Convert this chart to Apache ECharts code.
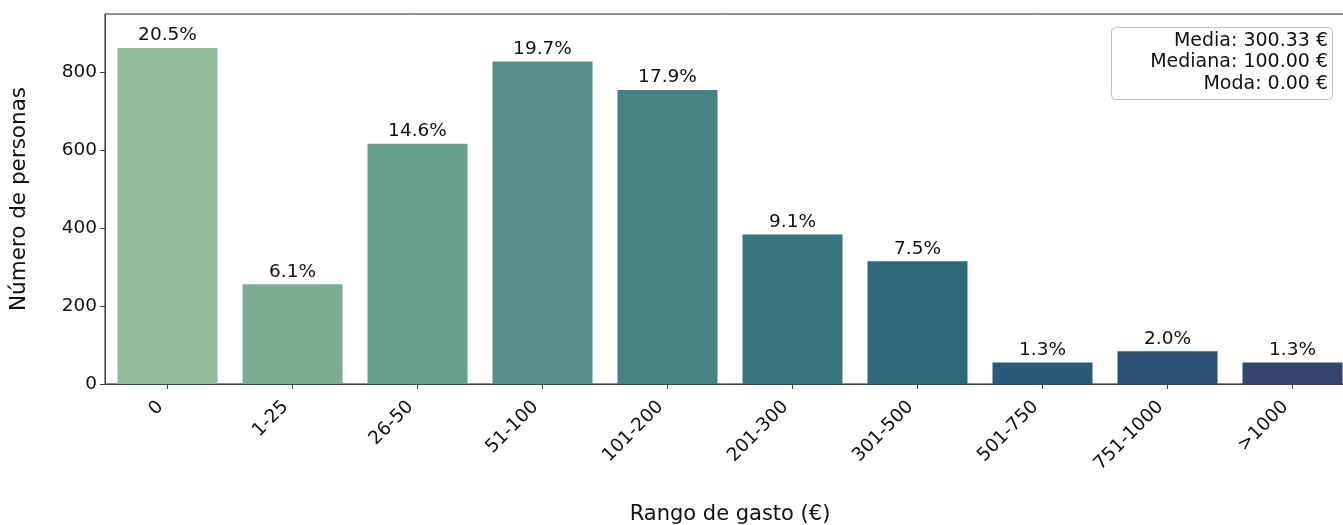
<!DOCTYPE html>
<html>
<head>
<meta charset="utf-8">
<script src="https://cdn.jsdelivr.net/npm/echarts@6/dist/echarts.min.js"></script>
<style>
html,body{margin:0;padding:0;background:#fff;}
#chart{width:1343px;height:525px;}
</style>
</head>
<body>
<div id="chart"></div>
<script>
const categories = ['0','1-25','26-50','51-100','101-200','201-300','301-500','501-750','751-1000','>1000'];
const counts = [863, 256, 617, 828, 755, 384, 315, 55, 84, 55];
const pctLabels = ['20.5%','6.1%','14.6%','19.7%','17.9%','9.1%','7.5%','1.3%','2.0%','1.3%'];
const barColors = ['#93bb98','#7bac93','#669f8d','#558f87','#468382','#3a767e','#30687c','#2c5b79','#2e4f75','#33446e'];
const yTicks = [0, 200, 400, 600, 800];
const statsLines = ['Media: 300.33 €','Mediana: 100.00 €','Moda: 0.00 €'];

const FONT = 'DejaVu Sans';
const chart = echarts.init(document.getElementById('chart'), null, {renderer:'canvas'});

const option = {
  animation: false,
  backgroundColor: '#fff',
  textStyle: {fontFamily: FONT},
  grid: {
    left: 105, top: 14, width: 1250, height: 370,
    outerBoundsMode: 'none', containLabel: false,
    show: true, borderColor: '#222', borderWidth: 1, backgroundColor: 'transparent'
  },
  xAxis: {
    type: 'category',
    data: categories,
    name: 'Rango de gasto (€)',
    nameLocation: 'middle',
    nameGap: 120,
    nameTextStyle: {fontFamily: FONT, fontSize: 21, color: '#111'},
    axisLine: {show: true, lineStyle: {color: '#444', width: 1}},
    axisTick: {show: true, alignWithLabel: true, length: 5, lineStyle: {color: '#444'}},
    axisLabel: {rotate: 45, fontFamily: FONT, fontSize: 18.5, color: '#111', margin: 13, padding: [0, 10, 0, 0], interval: 0},
    splitLine: {show: false}
  },
  yAxis: {
    type: 'value',
    min: 0, max: 950, interval: 200,
    name: 'Número de personas',
    nameLocation: 'middle',
    nameGap: 75,
    nameTextStyle: {fontFamily: FONT, fontSize: 21.5, color: '#111'},
    axisLine: {show: true, lineStyle: {color: '#444', width: 1}},
    axisTick: {show: true, length: 5, lineStyle: {color: '#444'}, customValues: yTicks},
    axisLabel: {
      fontFamily: FONT, fontSize: 18.5, color: '#111', margin: 8,
      customValues: yTicks
    },
    splitLine: {show: false}
  },
  series: [{
    type: 'bar',
    barCategoryGap: '20%',
    data: counts.map((v, i) => ({value: v, itemStyle: {color: barColors[i]}})),
    label: {
      show: true, position: 'top', distance: 3,
      fontFamily: FONT, fontSize: 18.5, color: '#111',
      formatter: function(p){ return pctLabels[p.dataIndex]; }
    }
  }],
  graphic: [
    {
      type: 'rect', left: 1111, top: 27,
      shape: {width: 221, height: 72, r: 4},
      style: {fill: 'rgba(255,255,255,0.85)', stroke: '#c0c0c0', lineWidth: 1},
      z: 100
    },
    {
      type: 'text', z: 101,
      style: {
        x: 1328, y: 30, text: statsLines.join('\n'), align: 'right', verticalAlign: 'top',
        font: '19px "DejaVu Sans"', fill: '#111', lineHeight: 21.5
      }
    }
  ]
};
chart.setOption(option);
</script>
</body>
</html>
